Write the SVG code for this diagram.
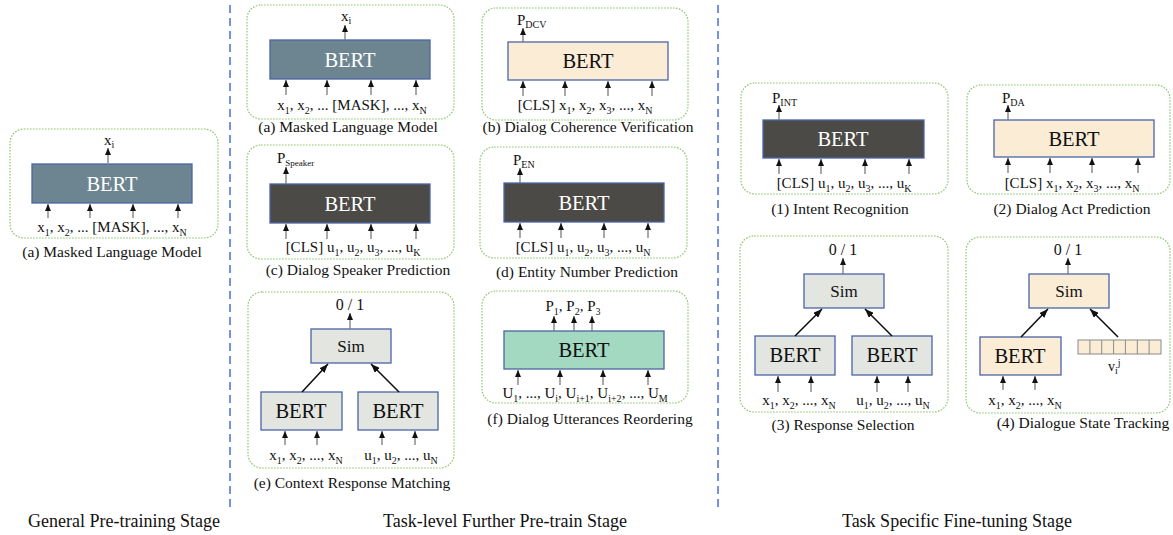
<svg xmlns="http://www.w3.org/2000/svg" width="1173" height="535" viewBox="0 0 1173 535" font-family="Liberation Serif, DejaVu Serif, serif">
<style>
text,tspan{font-family:'Liberation Serif','DejaVu Serif',serif}
text{fill:#111}
.panel{fill:none;stroke:#8cc66c;stroke-width:1.2;stroke-dasharray:1.6 1.4}
.slate{fill:#6c8591;stroke:#4a64a8;stroke-width:1.3}
.dark{fill:#4b4a46;stroke:#4a64a8;stroke-width:1.3}
.peach{fill:#fbecd6;stroke:#4a64a8;stroke-width:1.3}
.mint{fill:#a3d8c1;stroke:#4a64a8;stroke-width:1.3}
.grey{fill:#e2e5e0;stroke:#4a64a8;stroke-width:1.3}
.vec{fill:#fbecd6;stroke:#8a8a8a;stroke-width:1}
.bw{font-size:20.5px;fill:#fff;text-anchor:middle}
.bb{font-size:20.5px;fill:#111;text-anchor:middle}
.sim{font-size:17px;text-anchor:middle}
.in{font-size:15px;text-anchor:middle}
.cap{font-size:15.5px;text-anchor:middle}
.stage{font-size:18px;text-anchor:middle}
.s{font-size:10px}
.up{stroke:#7a7a7a;stroke-width:1.3;fill:none;marker-end:url(#ah)}
.dg{stroke:#111;stroke-width:1.6;fill:none;marker-end:url(#ah2)}
.sep{stroke:#4a6fd8;stroke-width:1.5;stroke-dasharray:8 5}
</style>
<defs>
<marker id="ah" viewBox="0 0 7 6" refX="7" refY="3" markerWidth="7" markerHeight="6" markerUnits="userSpaceOnUse" orient="auto"><path d="M0,0L7,3L0,6z" fill="#111"/></marker>
<marker id="ah2" viewBox="0 0 9 7" refX="9" refY="3.5" markerWidth="9" markerHeight="7" markerUnits="userSpaceOnUse" orient="auto"><path d="M0,0L9,3.5L0,7z" fill="#111"/></marker>
</defs>

<g id="separators">
<line class="sep" x1="230" y1="5" x2="230" y2="512"/>
<line class="sep" x1="718" y1="5" x2="718" y2="512"/>
</g>

<g id="general-mlm">
<rect class="panel" x="10" y="129" width="208" height="109" rx="14"/>
<rect class="slate" x="32" y="164" width="160" height="39"/>
<text class="bw" x="112" y="191">BERT</text>
<text x="104" y="145" font-size="15">x<tspan class="s" dy="3">i</tspan></text>
<text class="in" x="112" y="232">x<tspan class="s" dy="4">1</tspan><tspan dy="-4">, x</tspan><tspan class="s" dy="4">2</tspan><tspan dy="-4">, ... [MASK], ..., x</tspan><tspan class="s" dy="4">N</tspan></text>
<text class="cap" x="112" y="257">(a) Masked Language Model</text>
</g>

<g id="task-mlm">
<rect class="panel" x="247" y="5" width="207" height="114" rx="14"/>
<rect class="slate" x="270" y="40" width="160" height="39"/>
<text class="bw" x="350" y="67">BERT</text>
<text x="341" y="21" font-size="15">x<tspan class="s" dy="3">i</tspan></text>
<text class="in" x="352" y="110">x<tspan class="s" dy="4">1</tspan><tspan dy="-4">, x</tspan><tspan class="s" dy="4">2</tspan><tspan dy="-4">, ... [MASK], ..., x</tspan><tspan class="s" dy="4">N</tspan></text>
<text class="cap" x="348" y="132">(a) Masked Language Model</text>
</g>

<g id="dcv">
<rect class="panel" x="482" y="8" width="206" height="112" rx="14"/>
<rect class="peach" x="508" y="42" width="160" height="38"/>
<text class="bb" x="588" y="68">BERT</text>
<text x="517" y="25" font-size="15">P<tspan class="s" dy="3">DCV</tspan></text>
<text class="in" x="585" y="110">[CLS] x<tspan class="s" dy="4">1</tspan><tspan dy="-4">, x</tspan><tspan class="s" dy="4">2</tspan><tspan dy="-4">, x</tspan><tspan class="s" dy="4">3</tspan><tspan dy="-4">, ..., x</tspan><tspan class="s" dy="4">N</tspan></text>
<text class="cap" x="588" y="132">(b) Dialog Coherence Verification</text>
</g>

<g id="speaker">
<rect class="panel" x="247" y="145" width="207" height="114" rx="14"/>
<rect class="dark" x="270" y="184" width="160" height="39"/>
<text class="bw" x="350" y="211">BERT</text>
<text x="277" y="163" font-size="15">P<tspan font-size="9" dy="3">Speaker</tspan></text>
<text class="in" x="353" y="252">[CLS] u<tspan class="s" dy="4">1</tspan><tspan dy="-4">, u</tspan><tspan class="s" dy="4">2</tspan><tspan dy="-4">, u</tspan><tspan class="s" dy="4">3</tspan><tspan dy="-4">, ..., u</tspan><tspan class="s" dy="4">K</tspan></text>
<text class="cap" x="358" y="275">(c) Dialog Speaker Prediction</text>
</g>

<g id="entity">
<rect class="panel" x="480" y="147" width="207" height="111" rx="14"/>
<rect class="dark" x="504" y="183" width="160" height="39"/>
<text class="bw" x="584" y="210">BERT</text>
<text x="513" y="165" font-size="15">P<tspan class="s" dy="3">EN</tspan></text>
<text class="in" x="583" y="252">[CLS] u<tspan class="s" dy="4">1</tspan><tspan dy="-4">, u</tspan><tspan class="s" dy="4">2</tspan><tspan dy="-4">, u</tspan><tspan class="s" dy="4">3</tspan><tspan dy="-4">, ..., u</tspan><tspan class="s" dy="4">N</tspan></text>
<text class="cap" x="587" y="277">(d) Entity Number Prediction</text>
</g>

<g id="crm">
<rect class="panel" x="248" y="292" width="206" height="176" rx="14"/>
<rect class="grey" x="311" y="329" width="80" height="34"/>
<text class="sim" x="351" y="352">Sim</text>
<text x="350" y="310" font-size="16" text-anchor="middle">0 / 1</text>
<rect class="grey" x="261" y="392" width="81" height="38"/>
<text class="bb" x="301" y="418">BERT</text>
<rect class="grey" x="358" y="392" width="80" height="38"/>
<text class="bb" x="398" y="418">BERT</text>
<text class="in" x="306" y="460">x<tspan class="s" dy="4">1</tspan><tspan dy="-4">, x</tspan><tspan class="s" dy="4">2</tspan><tspan dy="-4">, ..., x</tspan><tspan class="s" dy="4">N</tspan></text>
<text class="in" x="401" y="460">u<tspan class="s" dy="4">1</tspan><tspan dy="-4">, u</tspan><tspan class="s" dy="4">2</tspan><tspan dy="-4">, ..., u</tspan><tspan class="s" dy="4">N</tspan></text>
<text class="cap" x="352" y="488">(e) Context Response Matching</text>
</g>

<g id="reorder">
<rect class="panel" x="482" y="291" width="206" height="112" rx="14"/>
<rect class="mint" x="504" y="331" width="160" height="38"/>
<text class="bb" x="584" y="357">BERT</text>
<text class="in" x="573" y="311">P<tspan class="s" dy="4">1</tspan><tspan dy="-4">, P</tspan><tspan class="s" dy="4">2</tspan><tspan dy="-4">, P</tspan><tspan class="s" dy="4">3</tspan></text>
<text class="in" x="585" y="398">U<tspan class="s" dy="4">1</tspan><tspan dy="-4">, ..., U</tspan><tspan class="s" dy="4">i</tspan><tspan dy="-4">, U</tspan><tspan class="s" dy="4">i+1</tspan><tspan dy="-4">, U</tspan><tspan class="s" dy="4">i+2</tspan><tspan dy="-4">, ..., U</tspan><tspan class="s" dy="4">M</tspan></text>
<text class="cap" x="590" y="424">(f) Dialog Utterances Reordering</text>
</g>

<g id="intent">
<rect class="panel" x="741" y="83" width="207" height="111" rx="14"/>
<rect class="dark" x="763" y="120" width="161" height="38"/>
<text class="bw" x="843" y="146">BERT</text>
<text x="772" y="103" font-size="15">P<tspan class="s" dy="3">INT</tspan></text>
<text class="in" x="844" y="188">[CLS] u<tspan class="s" dy="4">1</tspan><tspan dy="-4">, u</tspan><tspan class="s" dy="4">2</tspan><tspan dy="-4">, u</tspan><tspan class="s" dy="4">3</tspan><tspan dy="-4">, ..., u</tspan><tspan class="s" dy="4">K</tspan></text>
<text class="cap" x="840" y="214">(1) Intent Recognition</text>
</g>

<g id="dialog-act">
<rect class="panel" x="967" y="85" width="203" height="109" rx="14"/>
<rect class="peach" x="994" y="120" width="160" height="37"/>
<text class="bb" x="1074" y="146">BERT</text>
<text x="1002" y="103" font-size="15">P<tspan class="s" dy="3">DA</tspan></text>
<text class="in" x="1072" y="188">[CLS] x<tspan class="s" dy="4">1</tspan><tspan dy="-4">, x</tspan><tspan class="s" dy="4">2</tspan><tspan dy="-4">, x</tspan><tspan class="s" dy="4">3</tspan><tspan dy="-4">, ..., x</tspan><tspan class="s" dy="4">N</tspan></text>
<text class="cap" x="1072" y="214">(2) Dialog Act Prediction</text>
</g>

<g id="response">
<rect class="panel" x="740" y="236" width="208" height="176" rx="14"/>
<rect class="grey" x="804" y="274" width="80" height="34"/>
<text class="sim" x="844" y="297">Sim</text>
<text x="843" y="255" font-size="16" text-anchor="middle">0 / 1</text>
<rect class="grey" x="755" y="336" width="80" height="39"/>
<text class="bb" x="795" y="362">BERT</text>
<rect class="grey" x="852" y="336" width="80" height="39"/>
<text class="bb" x="892" y="362">BERT</text>
<text class="in" x="799" y="405">x<tspan class="s" dy="4">1</tspan><tspan dy="-4">, x</tspan><tspan class="s" dy="4">2</tspan><tspan dy="-4">, ..., x</tspan><tspan class="s" dy="4">N</tspan></text>
<text class="in" x="893" y="405">u<tspan class="s" dy="4">1</tspan><tspan dy="-4">, u</tspan><tspan class="s" dy="4">2</tspan><tspan dy="-4">, ..., u</tspan><tspan class="s" dy="4">N</tspan></text>
<text class="cap" x="843" y="430">(3) Response Selection</text>
</g>

<g id="dst">
<rect class="panel" x="966" y="237" width="204" height="176" rx="14"/>
<rect class="peach" x="1029" y="274" width="80" height="34"/>
<text class="sim" x="1069" y="297">Sim</text>
<text x="1068" y="255" font-size="16" text-anchor="middle">0 / 1</text>
<rect class="peach" x="980" y="337" width="81" height="38"/>
<text class="bb" x="1020" y="363">BERT</text>
<g id="slot-vector">
<rect class="vec" x="1078" y="340" width="83" height="14"/>
<path d="M1089.9,340V354M1101.7,340V354M1113.6,340V354M1125.4,340V354M1137.3,340V354M1149.1,340V354" stroke="#8a8a8a" stroke-width="1"/>
</g>
<text x="1108" y="371" font-size="14">v<tspan class="s" dy="3">i</tspan><tspan class="s" dy="-8">j</tspan></text>
<text class="in" x="1025" y="405">x<tspan class="s" dy="4">1</tspan><tspan dy="-4">, x</tspan><tspan class="s" dy="4">2</tspan><tspan dy="-4">, ..., x</tspan><tspan class="s" dy="4">N</tspan></text>
<text class="cap" x="1083" y="428">(4) Dialogue State Tracking</text>
</g>

<g id="stages">
<text class="stage" x="124" y="527">General Pre-training Stage</text>
<text class="stage" x="505" y="527">Task-level Further Pre-train Stage</text>
<text class="stage" x="957" y="527">Task Specific Fine-tuning Stage</text>
</g>

<g id="connectors">
<line class="up" x1="108" y1="163" x2="108" y2="148"/>
<line class="up" x1="48" y1="218" x2="48" y2="204"/>
<line class="up" x1="90" y1="218" x2="90" y2="204"/>
<line class="up" x1="133" y1="218" x2="133" y2="204"/>
<line class="up" x1="178" y1="218" x2="178" y2="204"/>
<line class="up" x1="345" y1="40" x2="345" y2="25"/>
<line class="up" x1="286" y1="95" x2="286" y2="80"/>
<line class="up" x1="327" y1="95" x2="327" y2="80"/>
<line class="up" x1="371" y1="95" x2="371" y2="80"/>
<line class="up" x1="416" y1="95" x2="416" y2="80"/>
<line class="up" x1="523" y1="42" x2="523" y2="28"/>
<line class="up" x1="523" y1="96" x2="523" y2="81"/>
<line class="up" x1="565" y1="96" x2="565" y2="81"/>
<line class="up" x1="608" y1="96" x2="608" y2="81"/>
<line class="up" x1="652" y1="96" x2="652" y2="81"/>
<line class="up" x1="286" y1="184" x2="286" y2="167"/>
<line class="up" x1="286" y1="239" x2="286" y2="224"/>
<line class="up" x1="327" y1="239" x2="327" y2="224"/>
<line class="up" x1="371" y1="239" x2="371" y2="224"/>
<line class="up" x1="416" y1="239" x2="416" y2="224"/>
<line class="up" x1="520" y1="183" x2="520" y2="168"/>
<line class="up" x1="520" y1="238" x2="520" y2="223"/>
<line class="up" x1="561" y1="238" x2="561" y2="223"/>
<line class="up" x1="604" y1="238" x2="604" y2="223"/>
<line class="up" x1="648" y1="238" x2="648" y2="223"/>
<line class="up" x1="350" y1="329" x2="350" y2="313"/>
<line class="dg" x1="302" y1="392" x2="328" y2="364"/>
<line class="dg" x1="399" y1="392" x2="371" y2="364"/>
<line class="up" x1="285" y1="445" x2="285" y2="431"/>
<line class="up" x1="317" y1="445" x2="317" y2="431"/>
<line class="up" x1="382" y1="445" x2="382" y2="431"/>
<line class="up" x1="415" y1="445" x2="415" y2="431"/>
<line class="up" x1="554" y1="331" x2="554" y2="316"/>
<line class="up" x1="574" y1="331" x2="574" y2="316"/>
<line class="up" x1="592" y1="331" x2="592" y2="316"/>
<line class="up" x1="518" y1="385" x2="518" y2="370"/>
<line class="up" x1="560" y1="385" x2="560" y2="370"/>
<line class="up" x1="603" y1="385" x2="603" y2="370"/>
<line class="up" x1="648" y1="385" x2="648" y2="370"/>
<line class="up" x1="779" y1="120" x2="779" y2="105"/>
<line class="up" x1="779" y1="174" x2="779" y2="159"/>
<line class="up" x1="821" y1="174" x2="821" y2="159"/>
<line class="up" x1="865" y1="174" x2="865" y2="159"/>
<line class="up" x1="909" y1="174" x2="909" y2="159"/>
<line class="up" x1="1008" y1="120" x2="1008" y2="105"/>
<line class="up" x1="1008" y1="173" x2="1008" y2="158"/>
<line class="up" x1="1050" y1="173" x2="1050" y2="158"/>
<line class="up" x1="1092" y1="173" x2="1092" y2="158"/>
<line class="up" x1="1138" y1="173" x2="1138" y2="158"/>
<line class="up" x1="843" y1="274" x2="843" y2="258"/>
<line class="dg" x1="795" y1="336" x2="822" y2="309"/>
<line class="dg" x1="892" y1="336" x2="865" y2="309"/>
<line class="up" x1="778" y1="392" x2="778" y2="376"/>
<line class="up" x1="811" y1="392" x2="811" y2="376"/>
<line class="up" x1="877" y1="392" x2="877" y2="376"/>
<line class="up" x1="908" y1="392" x2="908" y2="376"/>
<line class="up" x1="1068" y1="274" x2="1068" y2="258"/>
<line class="dg" x1="1021" y1="337" x2="1048" y2="309"/>
<line class="dg" x1="1118" y1="337" x2="1090" y2="309"/>
<line class="up" x1="1003" y1="390" x2="1003" y2="376"/>
<line class="up" x1="1035" y1="390" x2="1035" y2="376"/>
</g>
</svg>
